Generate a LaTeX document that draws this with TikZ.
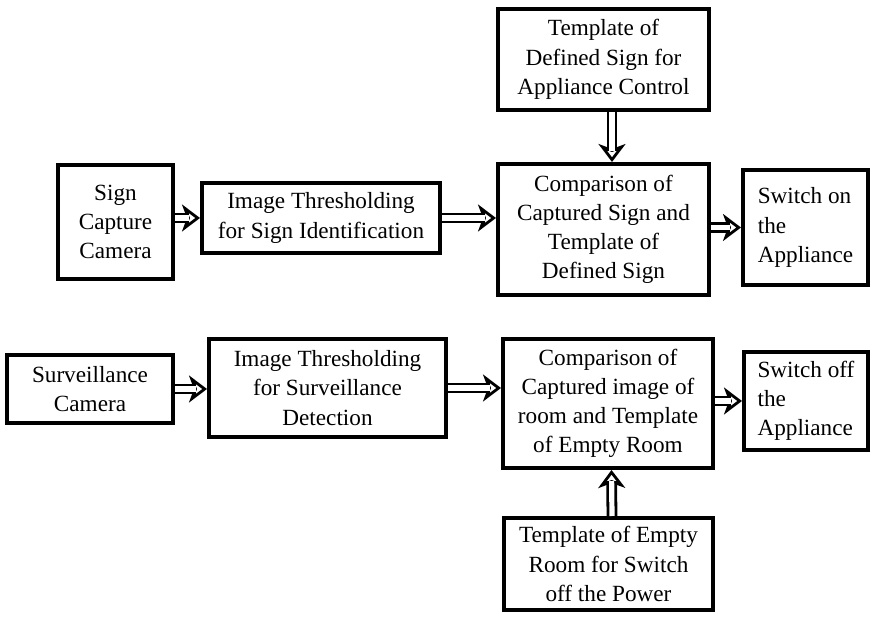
\documentclass[tikz,border=0pt]{standalone}
\usepackage{fontspec}
\setmainfont{Liberation Serif}
\usetikzlibrary{arrows.meta}
\newcommand\dblarrow[2]{%
  \draw[headarr] #1 -- #2;
  \draw[shaftarr] #1 -- #2;}
\begin{document}
\begin{tikzpicture}[x=0.5pt,y=-0.5pt,
  box/.style={draw, line width=2pt, inner sep=0pt, align=center,
    font=\fontsize{11.6}{14.6}\selectfont},
  lbox/.style={box, align=left},
  headarr/.style={line width=1.4pt, -{Stealth[open, length=9pt, width=13.5pt, inset=2.5pt, line width=1.4pt]}},
  shaftarr/.style={line width=1.4pt, double, double distance=2.6pt, shorten >=5.6pt}]
\useasboundingbox (0,0) rectangle (874,619);
% top row
\node[box, minimum width=57.5pt, minimum height=57pt] (cam1) at (115.5,222) {Sign\\Capture\\Camera};
\node[box, minimum width=119pt, minimum height=35pt] (thr1) at (321,218) {Image Thresholding\\for Sign Identification};
\node[box, minimum width=105.5pt, minimum height=50.5pt] (tpl1) at (603.5,59.5) {Template of\\Defined Sign for\\Appliance Control};
\node[box, minimum width=105.5pt, minimum height=65.5pt] (cmp1) at (603.5,229.5) {Comparison of\\Captured Sign and\\Template of\\Defined Sign};
\node[lbox, minimum width=62.5pt, minimum height=57.5pt] (on) at (805.5,227.5) {Switch on\\the\\Appliance};
% bottom row
\node[box, minimum width=83pt, minimum height=34pt] (cam2) at (90,389) {Surveillance\\Camera};
\node[box, minimum width=118.5pt, minimum height=49pt] (thr2) at (327.5,388) {Image Thresholding\\for Surveillance\\Detection};
\node[box, minimum width=105pt, minimum height=64.5pt] (cmp2) at (608,403.5) {Comparison of\\Captured image of\\room and Template\\of Empty Room};
\node[lbox, minimum width=62pt, minimum height=49pt] (off) at (806,401) {Switch off\\the\\Appliance};
\node[box, minimum width=104.5pt, minimum height=46pt] (tpl2) at (608.5,564) {Template of Empty\\Room for Switch\\off the Power};
% connectors
\dblarrow{(cam1.east |- thr1.west)}{(thr1.west)}
\dblarrow{(thr1.east)}{(thr1.east -| cmp1.west)}
\dblarrow{(cmp1.east |- on.west)}{(on.west)}
\dblarrow{([xshift=4.25pt]tpl1.south)}{([xshift=4.25pt]cmp1.north)}
\dblarrow{(cam2.east)}{(cam2.east -| thr2.west)}
\dblarrow{(thr2.east)}{(thr2.east -| cmp2.west)}
\dblarrow{(cmp2.east |- off.west)}{(off.west)}
\dblarrow{([xshift=1.75pt]tpl2.north)}{([xshift=1.75pt]cmp2.south)}
\end{tikzpicture}
\end{document}
